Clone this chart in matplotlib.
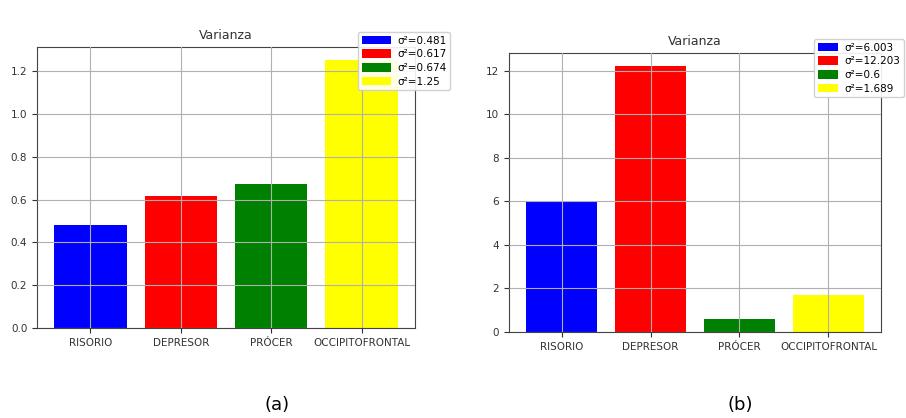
import matplotlib.pyplot as plt
import numpy as np

musculos = ['RISORIO', 'DEPRESOR', 'PRÓCER', 'OCCIPITOFRONTAL']
colores = ['blue', 'red', 'green', 'yellow']

var_a = [0.481, 0.617, 0.674, 1.25]
etiquetas_a = ['σ²=0.481', 'σ²=0.617', 'σ²=0.674', 'σ²=1.25']

var_b = [6.003, 12.203, 0.6, 1.689]
etiquetas_b = ['σ²=6.003', 'σ²=12.203', 'σ²=0.6', 'σ²=1.689']

fig = plt.figure(figsize=(9.06, 4.18), dpi=100)
plt.rcParams['font.size'] = 7.5


def graficar(ax, valores, etiquetas, ticks, leg_pos, hlen):
    x = np.arange(len(musculos))
    barras = []
    for i in range(len(musculos)):
        b = ax.bar(x[i], valores[i], color=colores[i], label=etiquetas[i], zorder=1)
        barras.append(b)
    ax.set_xticks(x)
    ax.set_xticklabels(musculos, fontsize=7.5)
    ax.set_yticks(ticks)
    ax.tick_params(labelsize=7.5, colors='#333333')
    ax.set_ylim(0, max(valores) * 1.05)
    ax.grid(True, color='#b0b0b0', linewidth=0.8, zorder=2)
    ax.set_axisbelow(False)
    for s in ax.spines.values():
        s.set_color('#444444')
    ax.set_title('Varianza', fontsize=9, color='#333333')
    fig.legend(handles=barras, loc='upper left', bbox_to_anchor=leg_pos,
               fontsize=7.5, framealpha=0.9, borderaxespad=0.0,
               handlelength=hlen, handleheight=0.9, labelspacing=0.35,
               handletextpad=0.6, borderpad=0.35)


ax1 = fig.add_axes([37 / 906, 1 - 328 / 418, 378 / 906, 281 / 418])
graficar(ax1, var_a, etiquetas_a, np.arange(0, 1.21, 0.2), (358 / 906, 1 - 32 / 418), 2.8)
ax1.set_yticklabels([f'{v:.1f}' for v in np.arange(0, 1.21, 0.2)])

ax2 = fig.add_axes([509 / 906, 1 - 332 / 418, 372 / 906, 279 / 418])
graficar(ax2, var_b, etiquetas_b, np.arange(0, 13, 2), (814 / 906, 1 - 39 / 418), 2.0)

fig.text(277 / 906, 1 - 405 / 418, '(a)', fontsize=13, ha='center', va='center')
fig.text(740 / 906, 1 - 405 / 418, '(b)', fontsize=13, ha='center', va='center')

fig.savefig('out.png', dpi=100)
